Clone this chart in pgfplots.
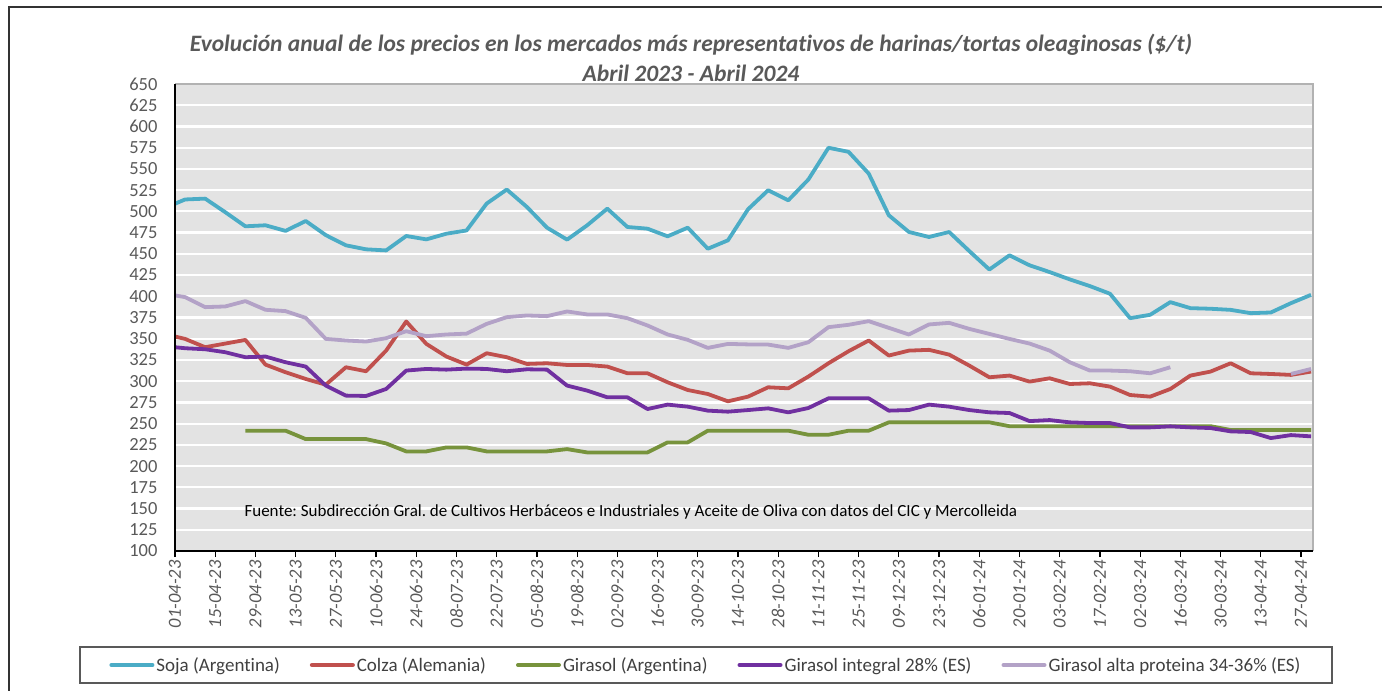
\documentclass[border=0pt]{standalone}
\usepackage{pgfplots}
\pgfplotsset{compat=1.18}
\usepackage{pgfplotstable}
\usepackage{fontspec}
\setmainfont{Carlito}[Ligatures=NoCommon]
\frenchspacing
\definecolor{soja}{HTML}{4BACC6}
\definecolor{colza}{HTML}{C0504D}
\definecolor{girarg}{HTML}{77933C}
\definecolor{girint}{HTML}{7030A0}
\definecolor{giralt}{HTML}{B3A2C7}
\definecolor{txtgray}{HTML}{595959}
\definecolor{leggray}{HTML}{404040}
\definecolor{plotbg}{HTML}{E3E3E3}
\definecolor{framec}{HTML}{333333}

\pgfplotstableread{
d S C G I A
0 509 352.6 nan 340 401
3.5 514 349.8 nan 338.8 399
10.5 515 340 nan 337.6 387.2
17.5 499 344.3 nan 334.1 388
24.5 482.4 348.6 241.7 328.2 394.3
31.5 483.6 319.5 241.7 329 384.1
38.5 477 310.5 241.7 322.3 382.5
45.5 488.7 302.6 231.8 317.2 374.6
52.5 472 295.9 231.8 294.8 349.8
59.5 460 316.4 231.8 283 347.9
66.5 455.3 311.7 231.8 282.6 346.7
73.5 454 336 226.7 290.8 350.6
80.5 471 370.3 217.3 312.5 358.9
87.5 467 343.9 217.3 314.4 353
94.5 473.7 329 222 313.6 355
101.5 477.5 319.5 222 314.8 356
108.5 509.2 332.9 217.3 314.4 367.5
115.5 525.7 328.2 217.3 311.7 375.4
122.5 505.2 320.3 217.3 314 377.4
129.5 480.8 321.1 217.3 313.6 376.6
136.5 466.7 319.1 220 294.8 382.1
143.5 483.6 319.1 216.1 288.9 378.6
150.5 503.2 317.2 216.1 281 378.6
157.5 481.6 309.3 216.1 281 374.2
164.5 479.6 309.3 216.1 267.2 365.6
171.5 470.6 298.7 227.9 272.4 355
178.5 480.8 289.6 227.9 270 348.7
185.5 456 284.9 241.7 265.3 339.2
192.5 465.9 276.3 241.7 264.1 343.9
199.5 502.5 281.8 241.7 266 343.3
206.5 524.9 292.8 241.7 268 343.1
213.5 513 291.6 241.7 263.3 339.2
220.5 537.5 305.4 236.9 268.4 345.9
227.5 574.9 321.1 236.9 279.8 363.6
234.5 570.1 335.3 241.7 279.8 366.4
241.5 544.5 347.9 241.7 279.8 370.7
248.5 495.4 330.2 251.5 265.3 362.8
255.5 475.7 336 251.5 266 355
262.5 469.8 336.9 251.5 272.4 366.8
269.5 475.7 331.3 251.5 270 368.7
276.5 453.3 318.4 251.5 266 361.6
283.5 431.5 304.6 251.5 263.3 355.7
290.5 448.2 306.6 247 262.5 349.8
297.5 436.5 299.5 247 253 344.3
304.5 428.5 303.4 247 254.2 336
311.5 419.9 296.7 247 251.5 322.3
318.5 412 297.5 247 250.7 312.5
325.5 403 293.6 247 250.7 312.5
332.5 374.2 283.7 247 245.6 311.7
339.5 378.2 281.8 247 245.6 309.3
346.5 393.1 290.8 247 246.8 316.4
353.5 386 306.6 247 245.6 nan
360.5 385.3 311.3 247 244.8 nan
367.5 384 321.1 242.5 240.9 nan
374.5 380.1 309.3 242.5 240.1 nan
381.5 380.9 308.5 242.5 233 nan
388.5 391.9 307.4 242.5 236.5 308.5
395.5 401.7 311.3 242.5 235 314.4
}\data

\begin{document}
\begin{tikzpicture}[x=1pt,y=1pt]
\path[use as bounding box] (0,0) rectangle (1382,691);
\draw[color=framec, line width=2pt] (9,-20) -- (9,684) -- (1400,684);
\node[text=txtgray, font=\fontsize{23.5}{26}\selectfont\bfseries\itshape] at (691,646) {Evolución anual de los precios en los mercados más representativos de harinas/tortas oleaginosas (\$/t)};
\node[text=txtgray, font=\fontsize{23.5}{26}\selectfont\bfseries\itshape] at (691,618) {Abril 2023 - Abril 2024};
\begin{axis}[
  at={(175pt,140pt)}, anchor=south west,
  scale only axis, width=1137.5pt, height=467pt,
  xmin=0, xmax=396, ymin=100, ymax=650,
  clip mode=individual,
  axis background/.style={fill=plotbg},
  axis line style={draw=none},
  ytick={100,125,...,650},
  ytick style={draw=none},
  ymajorgrids, major grid style={white, line width=2.2pt},
  xtick={0,14,...,392},
  xticklabels={01-04-23,15-04-23,29-04-23,13-05-23,27-05-23,10-06-23,24-06-23,08-07-23,22-07-23,05-08-23,19-08-23,02-09-23,16-09-23,30-09-23,14-10-23,28-10-23,11-11-23,25-11-23,09-12-23,23-12-23,06-01-24,20-01-24,03-02-24,17-02-24,02-03-24,16-03-24,30-03-24,13-04-24,27-04-24},
  xtick pos=left, tick align=outside, major tick length=6pt,
  xtick style={black, line width=1.2pt},
  xticklabel style={rotate=90, anchor=east, text=txtgray, font=\fontsize{18.5}{20}\selectfont\itshape},
  yticklabel style={text=txtgray, font=\fontsize{18.5}{20}\selectfont, xshift=-8pt},
  /pgf/number format/assume math mode=true,
  unbounded coords=jump,
  every axis plot/.append style={line width=3.8pt, line join=round, no markers},
  legend columns=5,
  legend style={at={(axis description cs:0.4668,-0.2441)}, anchor=center, draw=none, fill=none,
    font=\fontsize{19}{21}\selectfont, text=leggray,
    /tikz/every even column/.append style={column sep=28pt},
    inner sep=0pt},
  legend image code/.code={\draw[#1, line width=4pt, line cap=round] (0pt,0pt) -- (41pt,0pt);},
]
\addplot[soja] table[x=d, y=S] {\data};
\addlegendentry{Soja (Argentina)}
\addplot[colza] table[x=d, y=C] {\data};
\addlegendentry{Colza (Alemania)}
\addplot[girarg] table[x=d, y=G] {\data};
\addlegendentry{Girasol (Argentina)}
\addplot[girint] table[x=d, y=I] {\data};
\addlegendentry{Girasol integral 28\% (ES)}
\addplot[giralt] table[x=d, y=A] {\data};
\addlegendentry{Girasol alta proteina 34-36\% (ES)}
\draw[color=black!30, line width=2pt] (rel axis cs:0,1) -- (rel axis cs:1,1) -- (rel axis cs:1,0);
\draw[black, line width=1.6pt] (rel axis cs:0,1) -- (rel axis cs:0,0) -- (rel axis cs:1,0);
\end{axis}
\node[anchor=west, font=\fontsize{17}{19}\selectfont, text=black] at (241,179) {Fuente: Subdirección Gral. de Cultivos Herbáceos e Industriales y Aceite de Oliva con datos del CIC y Mercolleida};
\draw[color=txtgray, line width=1.4pt] (80,8) rectangle (1332,44);
\end{tikzpicture}
\end{document}
